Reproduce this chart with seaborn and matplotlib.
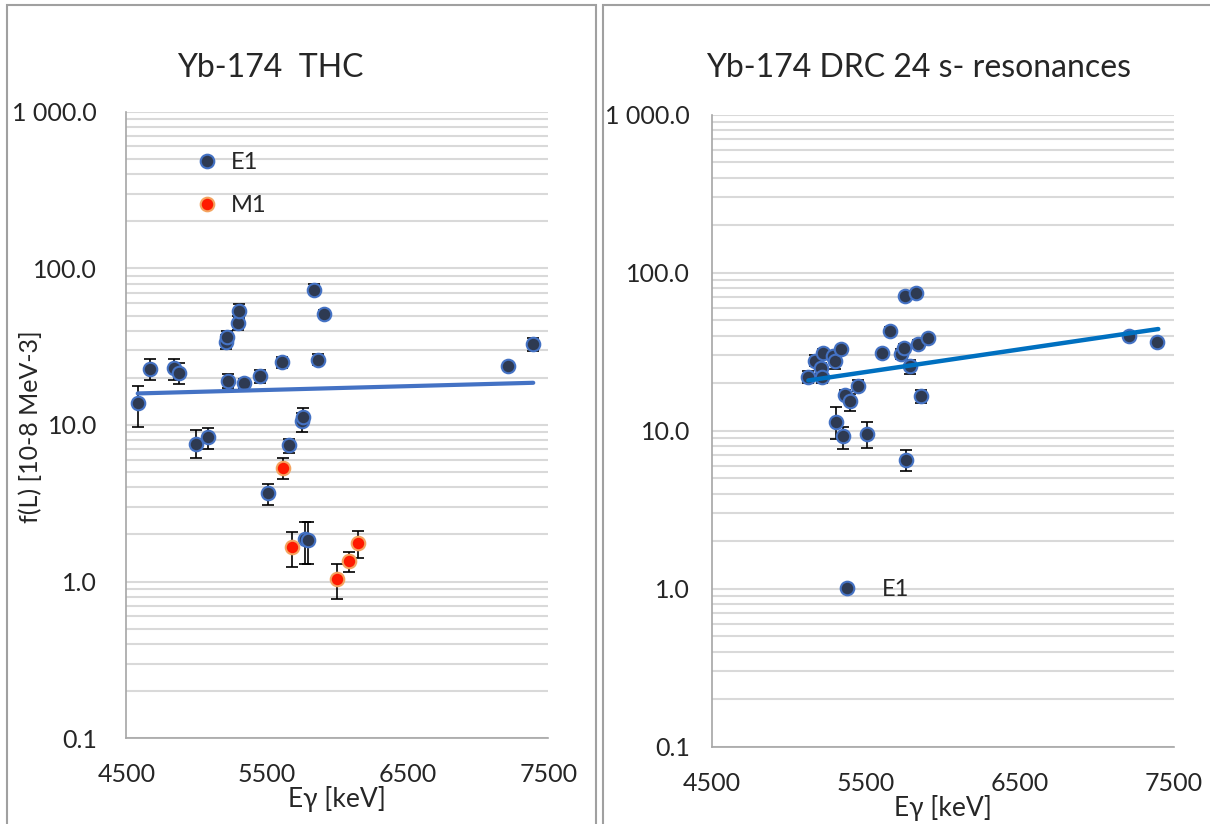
import numpy as np
import pandas as pd
import matplotlib
matplotlib.use("Agg")
import matplotlib.pyplot as plt
from matplotlib.lines import Line2D
from matplotlib.patches import Rectangle
import seaborn as sns

# ---------------- data ----------------
# Left panel: Yb-174 THC
thc_e1_x = [4581, 4669, 4842, 4877, 4997, 5079, 5207, 5219, 5226, 5293, 5302, 5340,
            5449, 5504, 5606, 5660, 5751, 5753, 5767, 5791, 5831, 5860, 5905, 7212, 7393]
thc_e1_y = [13.8, 22.9, 23.0, 21.4, 7.6, 8.35, 34.0, 36.6, 19.2, 45.0, 53.4, 18.5,
            20.5, 3.66, 25.1, 7.42, 10.6, 11.3, 1.87, 1.85, 73.0, 26.1, 51.3, 23.8, 32.7]
thc_e1_lo = [9.7, 19.4, 19.5, 18.2, 6.2, 7.06, 30.4, 33.0, 17.3, 40.2, 48.5, 17.2,
             18.5, 3.10, 23.2, 6.66, 9.0, 10.0, 1.30, 1.30, 68.3, 24.1, 48.5, 23.0, 29.7]
thc_e1_hi = [17.8, 26.3, 26.5, 25.0, 9.3, 9.5, 37.5, 40.0, 21.1, 49.5, 58.9, 19.8,
             22.4, 4.20, 27.0, 8.14, 12.0, 12.9, 2.41, 2.41, 79.0, 28.2, 54.5, 24.6, 36.1]

thc_m1_x = [5613, 5677, 5995, 6083, 6147]
thc_m1_y = [5.34, 1.67, 1.04, 1.36, 1.77]
thc_m1_lo = [4.52, 1.24, 0.78, 1.15, 1.42]
thc_m1_hi = [6.13, 2.08, 1.30, 1.55, 2.12]

thc_trend_x = [4581, 7393]
thc_trend_y = [15.9, 18.6]

# Right panel: Yb-174 DRC 24 s- resonances
drc_x = [5127, 5170, 5207, 5216, 5224, 5289, 5302, 5339, 5363, 5396, 5447, 5305, 5355, 5506,
         5605, 5659, 5730, 5750, 5754, 5828, 5789, 5839, 5902, 5858, 5764, 7210, 7388]
drc_y = [22.0, 27.8, 24.9, 22.0, 31.0, 29.9, 27.7, 33.0, 16.9, 15.4, 19.3, 11.4, 9.19, 9.6,
         31.0, 42.7, 30.7, 33.3, 70.8, 74.7, 25.8, 35.4, 38.4, 16.6, 6.57, 39.5, 36.4]
drc_lo = [20.0, 25.5, 23.0, 20.0, 29.0, 28.0, 24.4, 31.5, 15.8, 13.4, 17.8, 8.85, 7.68, 7.77,
          29.5, 40.5, 28.5, 31.0, 67.5, 71.5, 23.0, 33.5, 36.5, 15.0, 5.52, 37.8, 34.8]
drc_hi = [24.0, 30.0, 26.8, 24.0, 33.0, 32.0, 30.0, 34.5, 18.2, 17.0, 21.0, 14.1, 10.5, 11.3,
          32.5, 45.0, 33.0, 35.5, 74.0, 78.0, 28.0, 37.5, 40.5, 18.1, 7.55, 41.3, 38.2]

drc_trend_x = [5127, 7398]
drc_trend_y = [20.8, 44.0]

x_ticks = [4500, 5500, 6500, 7500]
y_ticks = [0.1, 1, 10, 100, 1000]
y_tick_labels = ["0.1", "1.0", "10.0", "100.0", "1 000.0"]

# ---------------- style ----------------
sns.set_theme(style="white")
plt.rcParams['font.family'] = ['Lato', 'DejaVu Sans']

W, H = 1210, 824
fig = plt.figure(figsize=(W / 100, H / 100), dpi=100)

GRID = "#D9D9D9"
AXC = "#A6A6A6"
NAVY = "#2E3A52"
EDGE = "#4472C4"
RED = "#FF1A00"
REDEDGE = "#F4A460"


def px_axes(x0, y0, x1, y1):
    return fig.add_axes([x0 / W, 1 - y1 / H, (x1 - x0) / W, (y1 - y0) / H])


def style_axes(ax, ypad):
    ax.set_yscale("log")
    ax.set_xlim(4500, 7500)
    ax.set_ylim(0.1, 1000)
    ax.set_xticks(x_ticks)
    ax.set_xticklabels([str(t) for t in x_ticks])
    ax.set_yticks(y_ticks)
    ax.set_yticklabels(y_tick_labels)
    ax.yaxis.set_minor_locator(matplotlib.ticker.LogLocator(base=10, subs=np.arange(2, 10)))
    ax.yaxis.set_minor_formatter(matplotlib.ticker.NullFormatter())
    ax.tick_params(axis="y", which="minor", length=0)
    ax.tick_params(axis="both", which="major", length=8, width=1.2, color=AXC,
                   labelsize=18, direction="out")
    ax.tick_params(axis="y", pad=ypad)
    ax.tick_params(axis="x", pad=10)
    ax.grid(True, axis="y", which="both", color=GRID, linewidth=1.5)
    ax.grid(False, axis="x")
    ax.set_axisbelow(True)
    for s in ["top", "right"]:
        ax.spines[s].set_visible(False)
    for s in ["left", "bottom"]:
        ax.spines[s].set_color(AXC)
        ax.spines[s].set_linewidth(1.2)
    ax.set_facecolor("white")


def draw_points(ax, x, y, lo, hi, face, edge, label):
    x = np.asarray(x); y = np.asarray(y)
    yerr = [y - np.asarray(lo), np.asarray(hi) - y]
    ax.errorbar(x, y, yerr=yerr, fmt="none", ecolor="black", elinewidth=1.2,
                capsize=4.5, capthick=1.2, zorder=2)
    df = pd.DataFrame({"x": x, "y": y})
    sns.scatterplot(data=df, x="x", y="y", ax=ax, s=95, color=face,
                    edgecolor=edge, linewidth=1.5, zorder=3, legend=False, label=label)


# ---- left panel ----
ax1 = px_axes(126.3, 111.7, 548.3, 738.3)
style_axes(ax1, 13)
draw_points(ax1, thc_e1_x, thc_e1_y, thc_e1_lo, thc_e1_hi, NAVY, EDGE, "E1")
draw_points(ax1, thc_m1_x, thc_m1_y, thc_m1_lo, thc_m1_hi, RED, REDEDGE, "M1")
sns.lineplot(x=thc_trend_x, y=thc_trend_y, ax=ax1, color="#4472C4", linewidth=3,
             zorder=4, legend=False)
ax1.set_xlabel("Eγ [keV]", fontsize=19, labelpad=0)
ax1.set_ylabel("")
fig.text(30 / W, 1 - 427 / H, "f(L) [10-8 MeV-3]", rotation=90, ha="center",
         va="center", fontsize=18)
fig.text(270 / W, 1 - 68 / H, "Yb-174  THC", ha="center", va="center", fontsize=23)

h_e1 = Line2D([], [], marker="o", linestyle="none", markersize=9.8,
              markerfacecolor=NAVY, markeredgecolor=EDGE, markeredgewidth=1.5)
h_m1 = Line2D([], [], marker="o", linestyle="none", markersize=9.8,
              markerfacecolor=RED, markeredgecolor=REDEDGE, markeredgewidth=1.5)
fig.legend([h_e1, h_m1], ["E1", "M1"], loc="upper left",
           bbox_to_anchor=(195 / W, 1 - 152 / H), frameon=False, fontsize=17,
           handlelength=1.0, handletextpad=0.5, labelspacing=0.95,
           borderpad=0, borderaxespad=0)

# ---- right panel ----
ax2 = px_axes(711.7, 114.7, 1174, 746.7)
style_axes(ax2, 7.5)
draw_points(ax2, drc_x, drc_y, drc_lo, drc_hi, NAVY, EDGE, "E1")
sns.lineplot(x=drc_trend_x, y=drc_trend_y, ax=ax2, color="#0070C0", linewidth=3.2,
             zorder=4, legend=False)
ax2.set_xlabel("Eγ [keV]", fontsize=19, labelpad=0)
ax2.set_ylabel("")
fig.text(919 / W, 1 - 68 / H, "Yb-174 DRC 24 s- resonances", ha="center", va="center",
         fontsize=23)

fig.legend([h_e1], ["E1"], loc="upper left",
           bbox_to_anchor=(835 / W, 1 - 579 / H), frameon=False, fontsize=17,
           handlelength=1.0, handletextpad=1.0, borderpad=0, borderaxespad=0)

# panel borders
fig.patches.append(Rectangle((7 / W, -0.05), (596 - 7) / W, 1.05 - 5 / H,
                             transform=fig.transFigure, fill=False,
                             edgecolor="#A0A0A0", linewidth=1.5))
fig.patches.append(Rectangle((603 / W, -0.05), (1215 - 603) / W, 1.05 - 5 / H,
                             transform=fig.transFigure, fill=False,
                             edgecolor="#A0A0A0", linewidth=1.5))

fig.savefig("out.png", dpi=100)
